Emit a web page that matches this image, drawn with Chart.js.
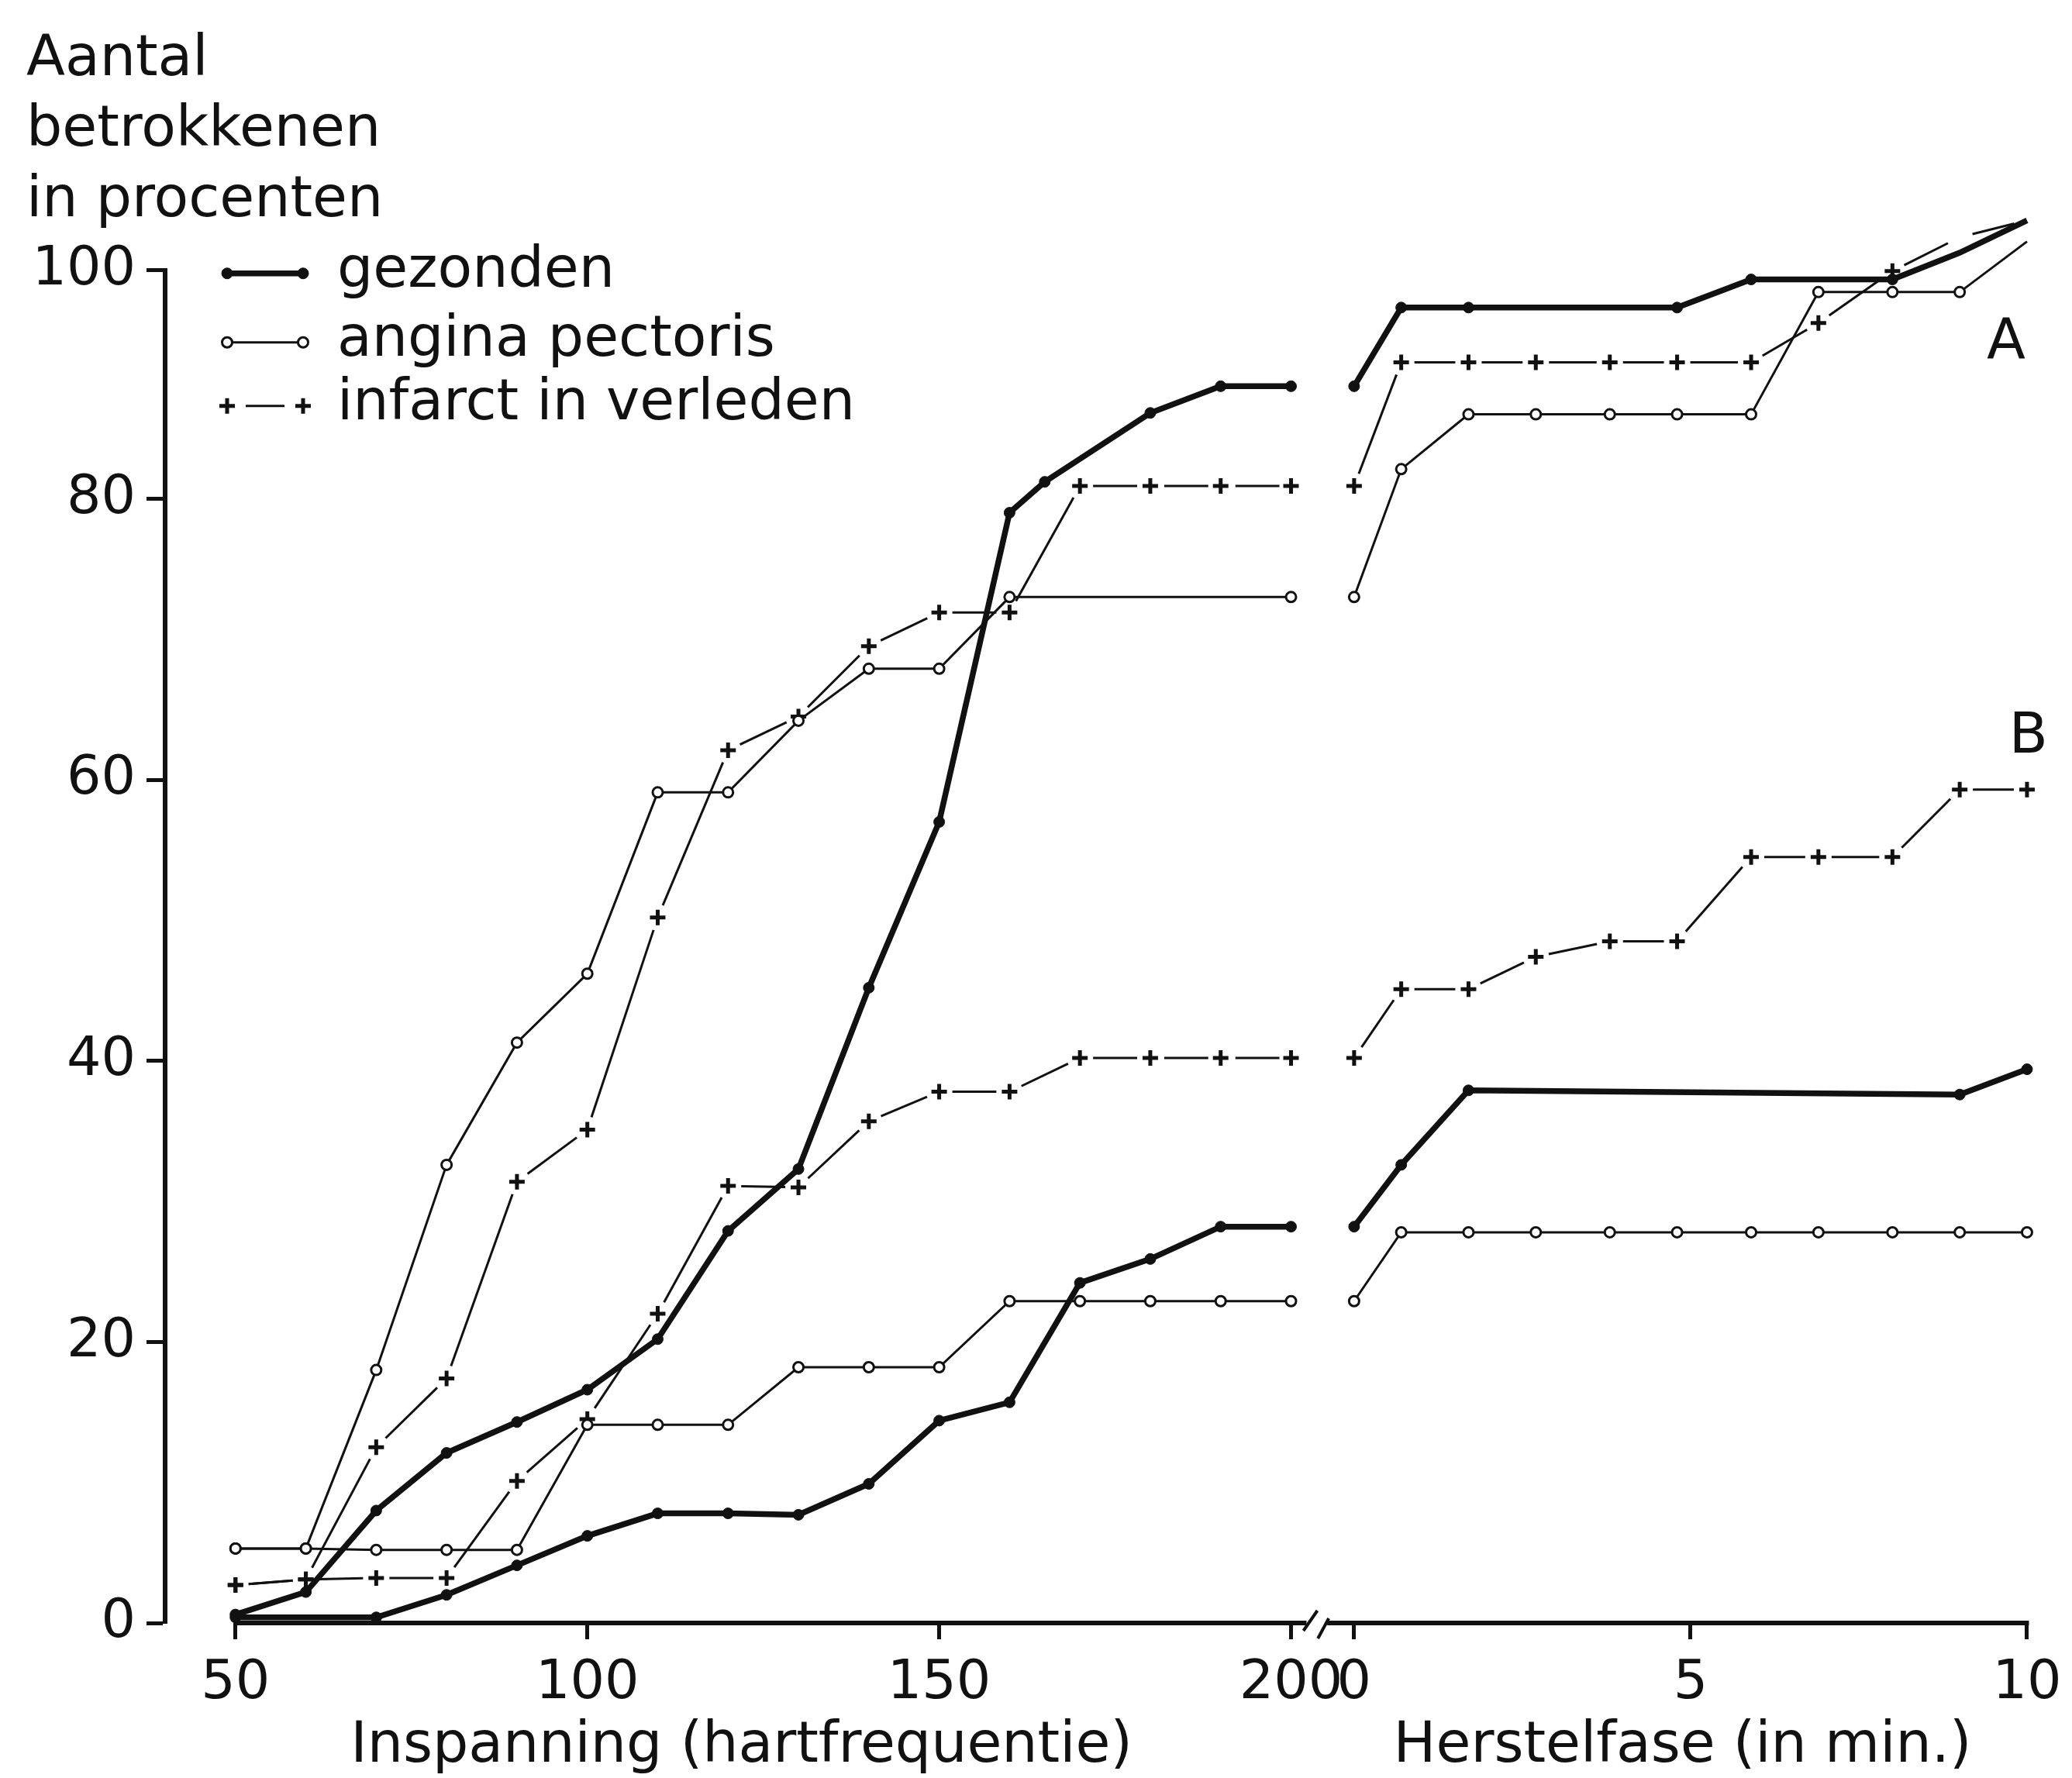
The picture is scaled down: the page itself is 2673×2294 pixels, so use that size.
<!DOCTYPE html>
<html>
<head>
<meta charset="utf-8">
<title>Aantal betrokkenen in procenten</title>
<script src="https://cdn.jsdelivr.net/npm/chart.js@4.4.0/dist/chart.umd.min.js"></script>
<style>
  html, body { margin: 0; padding: 0; background: #fff; }
  #wrap { width: 2673px; height: 2294px; }
</style>
</head>
<body>
<div id="wrap"><canvas id="chart"></canvas></div>
<script>
// x-waarden: hartfrequentie tijdens inspanning en minuten in de herstelfase
const hartfrequentie = [50, 60, 70, 80, 90, 100, 110, 120, 130, 140, 150, 160, 165, 170, 180, 190, 200];
const herstelMinuten = [0, 0.7, 1.7, 2.7, 3.8, 4.8, 5.9, 6.9, 8.0, 9.0, 10];

// groep A (bovenste curven), null = geen meetpunt getekend
const gezondenA_insp = [0.6, 2.2, 8.0, 12.1, 14.3, 16.6, 20.2, 27.9, 32.3, 45.2, 57.0, 79.0, 81.2, null, 86.1, 88.0, 88.0];
const anginaA_insp   = [5.3, 5.3, 18.0, 32.6, 41.3, 46.2, 59.1, 59.1, 64.2, 67.9, 67.9, 73.0, null, null, null, null, 73.0];
const infarctA_insp  = [2.7, 3.1, 12.5, 17.4, 31.4, 35.1, 50.2, 62.1, 64.5, 69.5, 71.9, 71.9, null, 80.9, 80.9, 80.9, 80.9];
const gezondenA_herst = [88.0, 93.6, 93.6, null, null, 93.6, 95.6, null, 95.6, 97.5, 99.8];
const anginaA_herst   = [73.0, 82.1, 86.0, 86.0, 86.0, 86.0, 86.0, 94.7, 94.7, 94.7, 98.3];
const infarctA_herst  = [80.9, 89.7, 89.7, 89.7, 89.7, 89.7, 89.7, 92.5, 96.2, 98.6, 99.8];

// groep B (onderste curven)
const gezondenB_insp = [0.4, null, 0.4, 2.0, 4.1, 6.2, 7.8, 7.8, 7.7, 9.9, 14.4, 15.7, null, 24.2, 25.9, 28.2, 28.2];
const anginaB_insp   = [5.3, 5.3, 5.2, 5.2, 5.2, 14.1, 14.1, 14.1, 18.2, 18.2, 18.2, 22.9, null, 22.9, 22.9, 22.9, 22.9];
const infarctB_insp  = [2.7, 3.1, 3.2, 3.2, 10.1, 14.5, 22.0, 31.1, 31.0, 35.7, 37.8, 37.8, null, 40.2, 40.2, 40.2, 40.2];
const gezondenB_herst = [28.2, 32.6, 37.9, null, null, null, null, null, null, 37.6, 39.4];
const anginaB_herst   = [22.9, 27.8, 27.8, 27.8, 27.8, 27.8, 27.8, 27.8, 27.8, 27.8, 27.8];
const infarctB_herst  = [40.2, 45.1, 45.1, 47.4, 48.5, 48.5, 54.5, 54.5, 54.5, 59.3, 59.3];

// assen
const yTickValues = [0, 20, 40, 60, 80, 100];
const yTickLabels = ['0', '20', '40', '60', '80', '100'];
const inspTicks = [50, 100, 150, 200];
const herstelTicks = [0, 5, 10];

const INK = '#111';
const FONT = 'DejaVu Sans';
const Y_TOP = 96.25; // in de figuur staat het streepje "100" hier (schaal van 0-80 doorgetrokken)

const STIJL = {
  gezonden: { lijn: 7.5, punt: 'circle', r: 7, pb: 1, vul: INK, dash: false },
  angina:   { lijn: 3, punt: 'circle', r: 6.5, pb: 3, vul: '#fff', dash: false },
  infarct:  { lijn: 3, punt: 'cross', r: 10, pb: 5, vul: INK, dash: true }
};

function streepjes(ctx) {
  const L = Math.hypot(ctx.p1.x - ctx.p0.x, ctx.p1.y - ctx.p0.y);
  const g = Math.min(17, L / 4);
  return [0, g, Math.max(L - 2 * g, 0), g + 1];
}

function reeks(label, xs, ys, as, soort) {
  const s = STIJL[soort];
  const ds = {
    label: label,
    xAxisID: as,
    yAxisID: 'y',
    data: xs.map((x, i) => ({ x: x, y: ys[i] })).filter(p => p.y !== null),
    borderColor: INK,
    borderWidth: s.lijn,
    pointStyle: s.punt,
    pointRadius: s.r,
    pointBorderWidth: s.pb,
    pointBackgroundColor: s.vul,
    pointBorderColor: INK,
    tension: 0,
    fill: false,
    clip: false
  };
  if (s.dash) ds.segment = { borderDash: streepjes };
  return ds;
}

const datasets = [
  reeks('angina A', hartfrequentie, anginaA_insp, 'x', 'angina'),
  reeks('angina B', hartfrequentie, anginaB_insp, 'x', 'angina'),
  reeks('infarct A', hartfrequentie, infarctA_insp, 'x', 'infarct'),
  reeks('infarct B', hartfrequentie, infarctB_insp, 'x', 'infarct'),
  reeks('gezonden A', hartfrequentie, gezondenA_insp, 'x', 'gezonden'),
  reeks('gezonden B', hartfrequentie, gezondenB_insp, 'x', 'gezonden'),
  reeks('angina A herstel', herstelMinuten, anginaA_herst, 'x2', 'angina'),
  reeks('angina B herstel', herstelMinuten, anginaB_herst, 'x2', 'angina'),
  reeks('infarct A herstel', herstelMinuten, infarctA_herst, 'x2', 'infarct'),
  reeks('infarct B herstel', herstelMinuten, infarctB_herst, 'x2', 'infarct'),
  reeks('gezonden A herstel', herstelMinuten, gezondenA_herst, 'x2', 'gezonden'),
  reeks('gezonden B herstel', herstelMinuten, gezondenB_herst, 'x2', 'gezonden')
];

function tekenPunt(ctx, s, x, y) {
  ctx.save();
  ctx.strokeStyle = INK;
  ctx.fillStyle = s.vul;
  ctx.lineWidth = s.pb;
  ctx.setLineDash([]);
  ctx.beginPath();
  if (s.punt === 'cross') {
    ctx.moveTo(x, y - s.r); ctx.lineTo(x, y + s.r);
    ctx.moveTo(x - s.r, y); ctx.lineTo(x + s.r, y);
    ctx.stroke();
  } else {
    ctx.arc(x, y, s.r, 0, Math.PI * 2);
    ctx.fill();
    ctx.stroke();
  }
  ctx.restore();
}

const figuur = {
  id: 'figuur',
  beforeDatasetsDraw(chart) {
    const ctx = chart.ctx;
    const sx = chart.scales.x, sx2 = chart.scales.x2;
    const yb = chart.chartArea.bottom;
    const a0 = sx.getPixelForValue(50), a1 = sx.getPixelForValue(202.2);
    const b0 = sx2.getPixelForValue(-0.4), b1 = sx2.getPixelForValue(10);
    ctx.save();
    ctx.strokeStyle = INK;
    ctx.lineWidth = 6;
    ctx.beginPath();
    ctx.moveTo(a0 - 2.5, yb); ctx.lineTo(a1, yb);
    ctx.moveTo(b0, yb); ctx.lineTo(b1 + 2.5, yb);
    ctx.stroke();
    // breuktekens
    ctx.lineWidth = 4;
    ctx.beginPath();
    ctx.moveTo(a1 - 4, yb + 10); ctx.lineTo(a1 + 14, yb - 16);
    ctx.moveTo(b0 - 12, yb + 20); ctx.lineTo(b0 + 2, yb - 6);
    ctx.stroke();
    ctx.restore();
  },
  afterDraw(chart) {
    const ctx = chart.ctx;
    const ca = chart.chartArea;
    // legenda
    const items = [
      { tekst: 'gezonden', s: STIJL.gezonden },
      { tekst: 'angina pectoris', s: STIJL.angina },
      { tekst: 'infarct in verleden', s: STIJL.infarct }
    ];
    const x0 = ca.left + 80, x1 = ca.left + 178;
    const rijen = [ca.top + 4, ca.top + 93, ca.top + 175];
    ctx.save();
    ctx.font = '73px "' + FONT + '"';
    ctx.textBaseline = 'middle';
    ctx.textAlign = 'left';
    items.forEach((it, i) => {
      const y = rijen[i];
      ctx.save();
      ctx.strokeStyle = INK;
      ctx.lineWidth = it.s.lijn;
      ctx.beginPath();
      if (it.s.dash) {
        ctx.moveTo(x0 + 24, y); ctx.lineTo(x1 - 24, y);
      } else {
        ctx.moveTo(x0, y); ctx.lineTo(x1, y);
      }
      ctx.stroke();
      ctx.restore();
      tekenPunt(ctx, it.s, x0, y);
      tekenPunt(ctx, it.s, x1, y);
      ctx.fillStyle = INK;
      ctx.fillText(it.tekst, ca.left + 222, y - 2);
    });
    // letters A en B
    const sx2 = chart.scales.x2, sy = chart.scales.y;
    ctx.textAlign = 'center';
    ctx.fillText('A', sx2.getPixelForValue(9.69), sy.getPixelForValue(91.0));
    ctx.fillText('B', sx2.getPixelForValue(10.02), sy.getPixelForValue(63.0));
    ctx.restore();
  }
};

const tickFont = { family: FONT, size: 70 };

// vaste hoogte en geen extra zijmarge voor de labels van de tijdassen
function pasXAsAan(ax) {
  ax.height = 200;
  ax.paddingLeft = 0;
  ax.paddingRight = 0;
}

new Chart(document.getElementById('chart'), {
  type: 'line',
  data: { datasets: datasets },
  options: {
    responsive: true,
    maintainAspectRatio: false,
    animation: false,
    layout: { padding: { left: 34, right: 32, top: 0, bottom: 0 } },
    plugins: {
      legend: { display: false },
      tooltip: { enabled: false },
      title: {
        display: true,
        text: ['Aantal', 'betrokkenen', 'in procenten'],
        align: 'start',
        color: INK,
        font: { family: FONT, size: 73, weight: 'normal', lineHeight: 1.25 },
        padding: { top: 32, bottom: 43 }
      }
    },
    scales: {
      y: {
        type: 'linear',
        min: 0,
        max: Y_TOP,
        afterBuildTicks: ax => { ax.ticks = yTickValues.map(v => ({ value: Math.min(v, Y_TOP) })); },
        afterFit: ax => { ax.width = 179; },
        ticks: {
          callback: (v, i) => yTickLabels[i],
          color: INK, font: tickFont, padding: 14, autoSkip: false
        },
        grid: { drawOnChartArea: false, drawTicks: true, tickLength: 24, tickWidth: 5, color: INK },
        border: { display: true, color: INK, width: 6 }
      },
      x: {
        type: 'linear',
        position: 'bottom',
        stack: 'tijd',
        stackWeight: 1487,
        min: 40,
        max: 203.8,
        afterBuildTicks: ax => { ax.ticks = inspTicks.map(v => ({ value: v })); },
        afterFit: pasXAsAan,
        ticks: { callback: v => String(v), color: INK, font: tickFont, padding: 16, maxRotation: 0, autoSkip: false },
        grid: { drawOnChartArea: false, drawTicks: true, tickLength: 21, tickWidth: 5, color: INK },
        border: { display: false },
        title: {
          display: true, text: 'Inspanning (hartfrequentie)', color: INK,
          font: { family: FONT, size: 73, lineHeight: 1.1 }, padding: { top: 0, bottom: 0 }
        }
      },
      x2: {
        type: 'linear',
        position: 'bottom',
        stack: 'tijd',
        stackWeight: 941,
        min: -0.54,
        max: 10.3,
        afterBuildTicks: ax => { ax.ticks = herstelTicks.map(v => ({ value: v })); },
        afterFit: pasXAsAan,
        ticks: { callback: v => String(v), color: INK, font: tickFont, padding: 16, maxRotation: 0, autoSkip: false },
        grid: { drawOnChartArea: false, drawTicks: true, tickLength: 21, tickWidth: 5, color: INK },
        border: { display: false },
        title: {
          display: true, text: 'Herstelfase (in min.)', color: INK,
          font: { family: FONT, size: 73, lineHeight: 1.1 }, padding: { top: 0, bottom: 0 }
        }
      }
    }
  },
  plugins: [figuur]
});
</script>
</body>
</html>
